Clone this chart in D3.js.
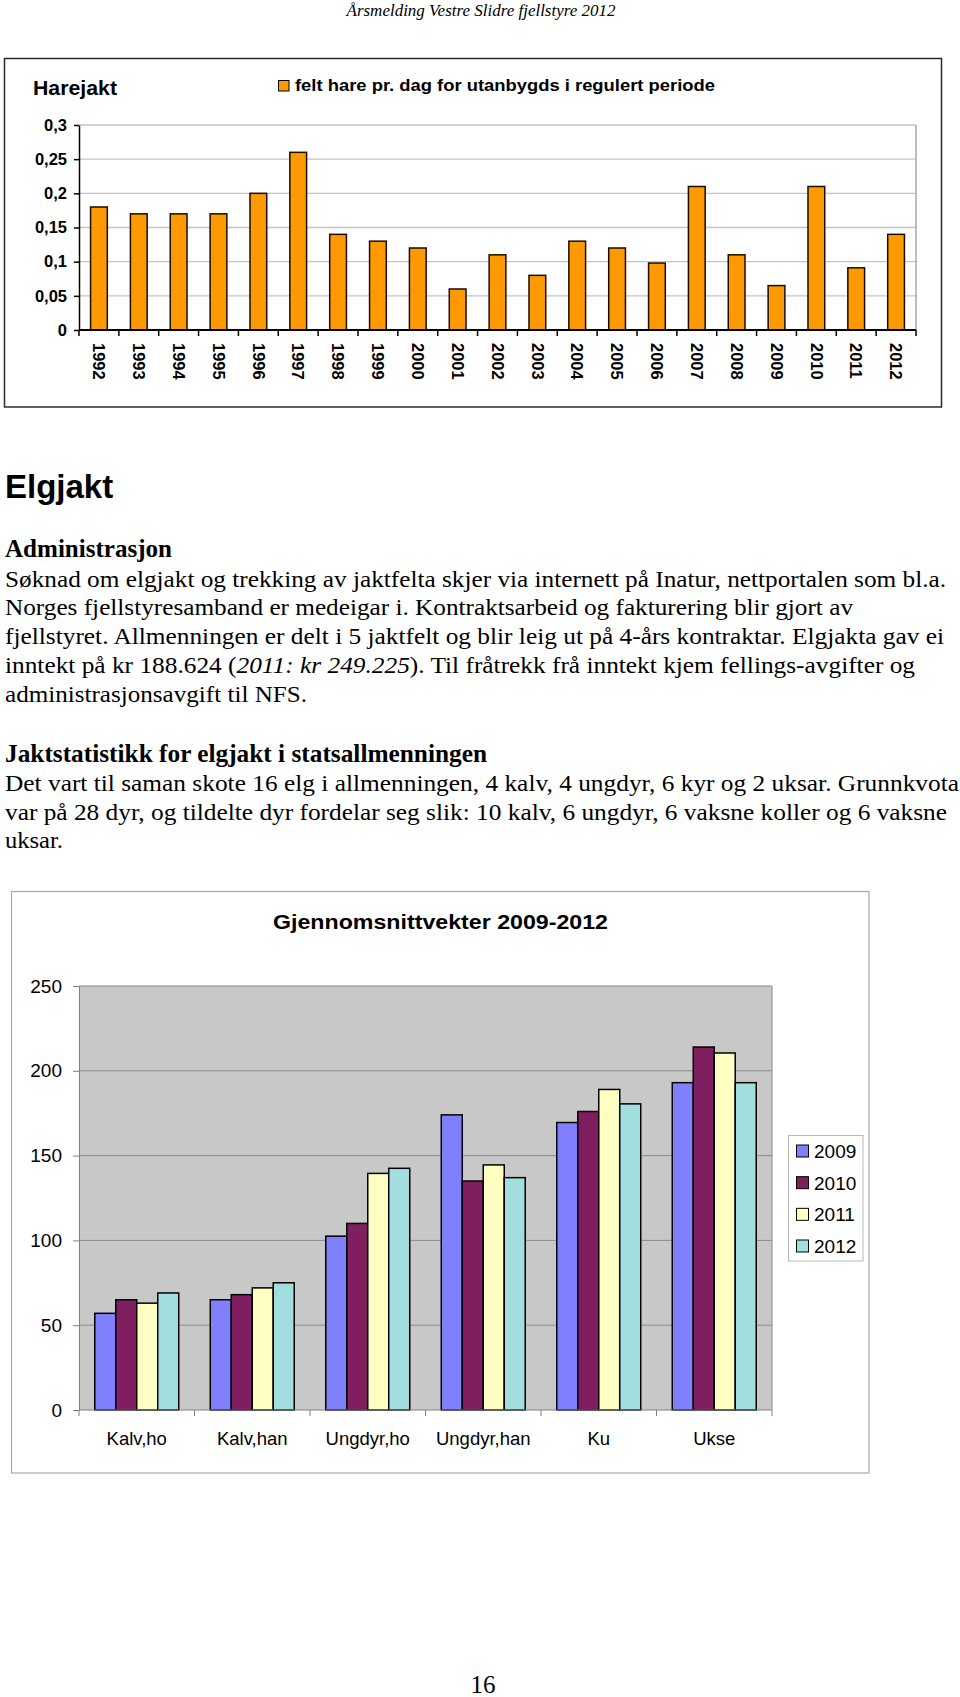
<!DOCTYPE html>
<html><head><meta charset="utf-8">
<script src="https://cdn.jsdelivr.net/npm/d3@7/dist/d3.min.js"></script>
<style>
body{margin:0;background:#fff;}
svg{display:block;}
</style></head><body>
<svg id="page" width="960" height="1697"></svg>
<script>
// ---------- data ----------
const pageHeader = "Årsmelding Vestre Slidre fjellstyre 2012";
const pageNumber = "16";

const hareTitle = "Harejakt";
const hareLegendLabel = "felt hare pr. dag for utanbygds i regulert periode";
const hareYears = ["1992","1993","1994","1995","1996","1997","1998","1999","2000","2001","2002",
                   "2003","2004","2005","2006","2007","2008","2009","2010","2011","2012"];
const hareValues = [0.18,0.17,0.17,0.17,0.20,0.26,0.14,0.13,0.12,0.06,0.11,
                    0.08,0.13,0.12,0.098,0.21,0.11,0.065,0.21,0.091,0.14];
const hareTickValues = [0,0.05,0.1,0.15,0.2,0.25,0.3];
const hareTickLabels = ["0","0,05","0,1","0,15","0,2","0,25","0,3"];

const sectionTitle = "Elgjakt";
const heading1 = "Administrasjon";
const para1Lines = [
  [["Søknad om elgjakt og trekking av jaktfelta skjer via internett på Inatur, nettportalen som bl.a.", false]],
  [["Norges fjellstyresamband er medeigar i. Kontraktsarbeid og fakturering blir gjort av", false]],
  [["fjellstyret. Allmenningen er delt i 5 jaktfelt og blir leig ut på 4-års kontraktar. Elgjakta gav ei", false]],
  [["inntekt på kr 188.624 (", false], ["2011: kr 249.225", true], ["). Til fråtrekk frå inntekt kjem fellings-avgifter og", false]],
  [["administrasjonsavgift til NFS.", false]]
];
const para1Widths = [941, 848, 939, 910, 302];
const heading2 = "Jaktstatistikk for elgjakt i statsallmenningen";
const para2Lines = [
  [["Det vart til saman skote 16 elg i allmenningen, 4 kalv, 4 ungdyr, 6 kyr og 2 uksar. Grunnkvota", false]],
  [["var på 28 dyr, og tildelte dyr fordelar seg slik: 10 kalv, 6 ungdyr, 6 vaksne koller og 6 vaksne", false]],
  [["uksar.", false]]
];
const para2Widths = [954, 942, 58];

const elkTitle = "Gjennomsnittvekter 2009-2012";
const elkCategories = ["Kalv,ho","Kalv,han","Ungdyr,ho","Ungdyr,han","Ku","Ukse"];
const elkYears = ["2009","2010","2011","2012"];
const elk2009 = [57, 65, 102.5, 174, 169.5, 193];
const elk2010 = [65, 68, 110, 135, 176, 214];
const elk2011 = [63, 72, 139.5, 144.5, 189, 210.5];
const elk2012 = [69, 75, 142.5, 137, 180.5, 193];
const elkColors = ["#8080FF","#7F1F5F","#FFFFC2","#A3DEDE"];
const elkTickValues = [0,50,100,150,200,250];

// ---------- setup ----------
const SANS = "'Liberation Sans', Arial, Helvetica, sans-serif";
const SERIF = "'Liberation Serif', 'Times New Roman', serif";
const svg = d3.select("#page");

// header
svg.append("text").attr("x", 481).attr("y", 16).attr("text-anchor", "middle")
  .attr("font-family", SERIF).attr("font-style", "italic").attr("font-size", 16)
  .attr("textLength", 269).attr("lengthAdjust", "spacingAndGlyphs").text(pageHeader);

// ---------- Hare chart ----------
const hare = svg.append("g");
hare.append("rect").attr("x", 4.5).attr("y", 58.5).attr("width", 937).attr("height", 348.5)
  .attr("fill", "#fff").attr("stroke", "#2a2a2a").attr("stroke-width", 1.5);

const hx = d3.scaleBand().domain(hareYears).range([79, 916]).padding(0);
const hy = d3.scaleLinear().domain([0, 0.3]).range([330, 125]);

// gridlines
hare.append("g").selectAll("line").data(hareTickValues.filter(d => d > 0)).join("line")
  .attr("x1", 79).attr("x2", 916).attr("y1", d => hy(d)).attr("y2", d => hy(d))
  .attr("stroke", "#c4c4c4").attr("stroke-width", 1.3);
hare.append("line").attr("x1", 916).attr("x2", 916).attr("y1", hy(0.3)).attr("y2", hy(0))
  .attr("stroke", "#9a9a9a").attr("stroke-width", 1.3);

// bars
const hbw = hx.bandwidth() * 0.42;
hare.append("g").selectAll("rect").data(hareYears).join("rect")
  .attr("x", d => hx(d) + (hx.bandwidth() - hbw) / 2)
  .attr("y", (d, i) => hy(hareValues[i]))
  .attr("width", hbw)
  .attr("height", (d, i) => hy(0) - hy(hareValues[i]))
  .attr("fill", "#FF9900").attr("stroke", "#1a0d00").attr("stroke-width", 1.5);

// y axis
const hyAxis = hare.append("g").attr("transform", "translate(79,0)")
  .call(d3.axisLeft(hy).tickValues(hareTickValues).tickFormat((d, i) => hareTickLabels[i])
    .tickSize(5).tickSizeOuter(0).tickPadding(7));
hyAxis.select(".domain").attr("stroke", "#000").attr("stroke-width", 1.5);
hyAxis.selectAll(".tick line").attr("stroke", "#000").attr("stroke-width", 1.5);
hyAxis.selectAll(".tick text").attr("font-family", SANS).attr("font-weight", "bold")
  .attr("font-size", 16.5).attr("fill", "#000");

// x axis
hare.append("line").attr("x1", 79).attr("x2", 916).attr("y1", hy(0)).attr("y2", hy(0))
  .attr("stroke", "#000").attr("stroke-width", 2);
const hBounds = hareYears.map(d => hx(d)).concat([hx.range()[1]]);
hare.append("g").selectAll("line").data(hBounds).join("line")
  .attr("x1", d => d).attr("x2", d => d).attr("y1", hy(0)).attr("y2", hy(0) + 6)
  .attr("stroke", "#000").attr("stroke-width", 1.5);
hare.append("g").selectAll("text").data(hareYears).join("text")
  .attr("transform", d => `translate(${hx(d) + hx.bandwidth() / 2},343) rotate(90)`)
  .attr("dy", "0.35em").attr("text-anchor", "start")
  .attr("font-family", SANS).attr("font-weight", "bold").attr("font-size", 16.5)
  .text(d => d);

// title + legend
hare.append("text").attr("x", 33).attr("y", 95).attr("font-family", SANS).attr("font-weight", "bold")
  .attr("font-size", 20).attr("textLength", 84).attr("lengthAdjust", "spacingAndGlyphs").text(hareTitle);
hare.append("rect").attr("x", 278.5).attr("y", 80.5).attr("width", 10.5).attr("height", 10.5)
  .attr("fill", "#FF9900").attr("stroke", "#000").attr("stroke-width", 1);
hare.append("text").attr("x", 295).attr("y", 91).attr("font-family", SANS).attr("font-weight", "bold")
  .attr("font-size", 16.5).attr("textLength", 420).attr("lengthAdjust", "spacingAndGlyphs")
  .text(hareLegendLabel);

// ---------- Text section ----------
const txt = svg.append("g");
txt.append("text").attr("x", 5).attr("y", 498).attr("font-family", SANS).attr("font-weight", "bold")
  .attr("font-size", 33).text(sectionTitle);

function heading(str, y, w) {
  txt.append("text").attr("x", 5).attr("y", y).attr("font-family", SERIF).attr("font-weight", "bold")
    .attr("font-size", 24.5).attr("textLength", w).attr("lengthAdjust", "spacingAndGlyphs").text(str);
}
function para(lines, widths, y0) {
  lines.forEach((segs, i) => {
    const t = txt.append("text").attr("x", 5).attr("y", y0 + i * 28.7)
      .attr("font-family", SERIF).attr("font-size", 24)
      .attr("textLength", widths[i]).attr("lengthAdjust", "spacingAndGlyphs");
    segs.forEach(s => {
      t.append("tspan").attr("font-style", s[1] ? "italic" : "normal").text(s[0]);
    });
  });
}
heading(heading1, 557, 167);
para(para1Lines, para1Widths, 586.7);
heading(heading2, 762.3, 482);
para(para2Lines, para2Widths, 791);

// ---------- Elk chart ----------
const elk = svg.append("g");
elk.append("rect").attr("x", 11.5).attr("y", 891.5).attr("width", 857.5).attr("height", 581.5)
  .attr("fill", "#fff").attr("stroke", "#a8a8a8").attr("stroke-width", 1.2);

const ex = d3.scaleBand().domain(elkCategories).range([79, 772]).padding(0);
const groupW = ex.bandwidth() * 0.727;
const ex1 = d3.scaleBand().domain(elkYears).range([0, groupW]).padding(0);
const ey = d3.scaleLinear().domain([0, 250]).range([1410, 986]);
const elkSeries = [elk2009, elk2010, elk2011, elk2012];

elk.append("rect").attr("x", 79).attr("y", ey(250)).attr("width", 772 - 79).attr("height", ey(0) - ey(250))
  .attr("fill", "#C8C8C8");
elk.append("g").selectAll("line").data(elkTickValues.filter(d => d > 0)).join("line")
  .attr("x1", 79).attr("x2", 772).attr("y1", d => ey(d)).attr("y2", d => ey(d))
  .attr("stroke", "#8a8a8a").attr("stroke-width", 1);
elk.append("line").attr("x1", 772).attr("x2", 772).attr("y1", ey(250)).attr("y2", ey(0))
  .attr("stroke", "#8a8a8a").attr("stroke-width", 1);

const groups = elk.append("g").selectAll("g").data(elkCategories).join("g")
  .attr("transform", d => `translate(${ex(d) + (ex.bandwidth() - groupW) / 2},0)`);
groups.selectAll("rect").data((d, ci) => elkYears.map((y, si) => ({ y, si, v: elkSeries[si][ci] })))
  .join("rect")
  .attr("x", d => ex1(d.y)).attr("width", ex1.bandwidth())
  .attr("y", d => ey(d.v)).attr("height", d => ey(0) - ey(d.v))
  .attr("fill", d => elkColors[d.si]).attr("stroke", "#000").attr("stroke-width", 1.5);

const eyAxis = elk.append("g").attr("transform", "translate(79,0)")
  .call(d3.axisLeft(ey).tickValues(elkTickValues).tickSize(6).tickSizeOuter(0).tickPadding(11));
eyAxis.select(".domain").attr("stroke", "#808080").attr("stroke-width", 1);
eyAxis.selectAll(".tick line").attr("stroke", "#808080");
eyAxis.selectAll(".tick text").attr("font-family", SANS).attr("font-size", 19).attr("fill", "#000");

elk.append("line").attr("x1", 79).attr("x2", 772).attr("y1", ey(0)).attr("y2", ey(0))
  .attr("stroke", "#808080").attr("stroke-width", 1);
const eBounds = elkCategories.map(d => ex(d)).concat([ex.range()[1]]);
elk.append("g").selectAll("line").data(eBounds).join("line")
  .attr("x1", d => d).attr("x2", d => d).attr("y1", ey(0)).attr("y2", ey(0) + 6)
  .attr("stroke", "#808080").attr("stroke-width", 1);
elk.append("g").selectAll("text").data(elkCategories).join("text")
  .attr("x", d => ex(d) + ex.bandwidth() / 2).attr("y", 1445).attr("text-anchor", "middle")
  .attr("font-family", SANS).attr("font-size", 18.5).text(d => d);

elk.append("text").attr("x", 440.5).attr("y", 929).attr("text-anchor", "middle")
  .attr("font-family", SANS).attr("font-weight", "bold").attr("font-size", 19.5)
  .attr("textLength", 335).attr("lengthAdjust", "spacingAndGlyphs").text(elkTitle);

// legend
const leg = elk.append("g");
leg.append("rect").attr("x", 788.5).attr("y", 1135.5).attr("width", 74.5).attr("height", 125.5)
  .attr("fill", "#fff").attr("stroke", "#b8b8b8").attr("stroke-width", 1);
const ly = d3.scalePoint().domain(elkYears).range([1151, 1246]);
leg.selectAll("rect.sw").data(elkYears).join("rect").attr("class", "sw")
  .attr("x", 796.5).attr("y", d => ly(d) - 6).attr("width", 12).attr("height", 12)
  .attr("fill", (d, i) => elkColors[i]).attr("stroke", "#000").attr("stroke-width", 1);
leg.selectAll("text").data(elkYears).join("text")
  .attr("x", 814).attr("y", d => ly(d)).attr("dy", "0.36em")
  .attr("font-family", SANS).attr("font-size", 19).text(d => d);

// page number
svg.append("text").attr("x", 483).attr("y", 1693).attr("text-anchor", "middle")
  .attr("font-family", SERIF).attr("font-size", 25).text(pageNumber);
</script>
</body></html>
